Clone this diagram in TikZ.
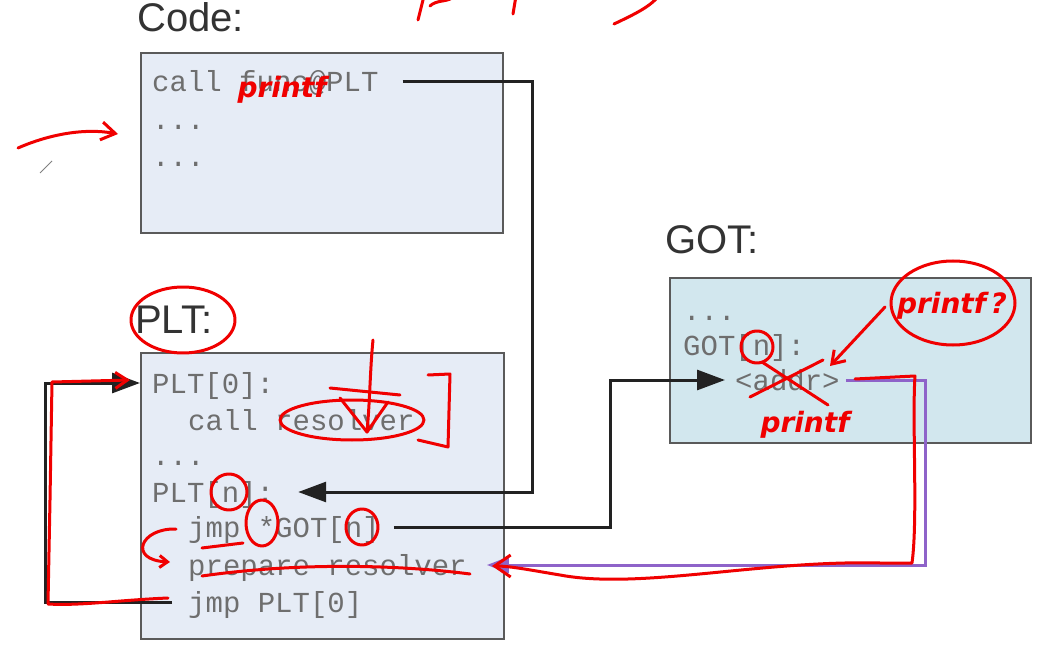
\documentclass[tikz,border=0pt]{standalone}
\usepackage{fontspec}
\setmainfont{Liberation Sans}
\newfontfamily\monofont{Liberation Mono}
\newfontfamily\handfont{DejaVu Sans}
\usetikzlibrary{arrows.meta}
\usetikzlibrary{positioning}
\usetikzlibrary{calc}
\definecolor{codefill}{HTML}{E6ECF6}
\definecolor{gotfill}{HTML}{D2E7EE}
\definecolor{boxline}{HTML}{5A5A5A}
\definecolor{asmtext}{HTML}{6E6E6E}
\definecolor{ptrline}{HTML}{222222}
\definecolor{lazyline}{HTML}{8E63C9}
\definecolor{inkred}{HTML}{F00000}

\begin{document}
\begin{tikzpicture}[x=1pt,y=-1pt]
	\tikzset{membox/.style = {shape=rectangle, draw=boxline, line width=2.2pt, anchor=north west, inner sep=0pt},
		asm/.style = {anchor=west, inner sep=0pt, text height=20pt, text depth=0pt, text=asmtext, font=\monofont\fontsize{29}{30}\selectfont},
		memlabel/.style = {anchor=west, inner sep=0pt, text=black!80, font=\fontsize{40}{44}\selectfont},
		ptr/.style = {draw=ptrline, line width=3pt, -{Triangle[length=28pt,width=20pt]}},
		lazy/.style = {draw=lazyline, line width=3pt, -{Triangle[length=22pt,width=16pt]}},
		ink/.style = {draw=inkred, line width=3pt, line cap=round, line join=round},
		scrawl/.style = {text=inkred, inner sep=0pt, font=\handfont\bfseries\itshape\fontsize{28}{28}\selectfont}}
	\useasboundingbox (0,0) rectangle (1044,652);
	\fill[white] (0,0) rectangle (1044,652);
	
	% code
	\node[memlabel] (CODELBL) at (137,17) {Code:};
	\node[membox, fill=codefill, minimum width=362pt, minimum height=180pt] (CODE) at (140,52) {};
	\node[asm] (CALL) at (152,82) {call func@PLT};
	\node[asm] (DOTSA) at (152,120) {...};
	\node[asm] (DOTSB) at (152,157) {...};
	
	% plt
	\node[memlabel] (PLTLBL) at (135,320) {PLT:};
	\node[membox, fill=codefill, minimum width=363pt, minimum height=286pt] (PLT) at (140,352) {};
	\node[asm] (PLT0) at (152,383) {PLT[0]:};
	\node[asm] (CALLRES) at (188,420) {call resolver};
	\node[asm] (DOTSC) at (152,455) {...};
	\node[asm] (PLTN) at (152,492) {PLT[n]:};
	\node[asm] (JMPGOT) at (188,527) {jmp *GOT[n]};
	\node[asm] (PREP) at (188,565) {prepare resolver};
	\node[asm] (JMPPLT) at (188,602) {jmp PLT[0]};
	
	% got
	\node[memlabel] (GOTLBL) at (665,240) {GOT:};
	\node[membox, fill=gotfill, minimum width=361pt, minimum height=165pt] (GOT) at (669,277) {};
	\node[asm] (GDOTS) at (683,310) {...};
	\node[asm] (GOTN) at (683,345) {GOT[n]:};
	\node[asm] (ADDR) at (735,380) {<addr>};
	
	% pointers
	\coordinate (RA) at (532,0);
	\coordinate (RB) at (610,0);
	\coordinate (LA) at (45,0);
	\coordinate (RC) at (925,0);
	\draw[ptr] ([xshift=24pt]CALL.east) -- (CALL.east -| RA) |- ([xshift=24pt]PLTN.east);
	\draw[ptr] ([xshift=14pt]JMPGOT.east) -- (JMPGOT.east -| RB) |- ([xshift=-10pt]ADDR.west);
	\draw[ptr] ([xshift=-16pt]JMPPLT.west) -- (JMPPLT.west -| LA) |- (PLT.west |- PLT0.west);
	\draw[lazy] ([xshift=6pt]ADDR.east) -- (ADDR.east -| RC) |- ([xshift=20pt]PREP.east);
	
	% handwritten notes
	\draw[ink] (418,20) -- (424,-4);
	\draw[ink] (430,6) .. controls (436,0) and (446,2) .. (452,-2);
	\draw[ink] (513,14) -- (516,-4);
	\draw[ink] (614,24) .. controls (635,14) and (652,6) .. (660,-6);
	\draw[ink, -{Straight Barb[length=14pt,width=18pt]}] (18,148) .. controls (50,134) and (85,128) .. (118,134);
	\draw[gray, line width=1pt] (40,173) -- (52,161);
	\node[scrawl] (INKCALL) at (282,90) {printf};
	\draw[ink] (183,320) ellipse [x radius=52pt, y radius=33pt];
	\draw[ink, -{Straight Barb[length=12pt,width=16pt]}] (168,598) .. controls (120,600) and (80,606) .. (48,604) -- (50,500) -- (52,382) -- (130,380);
	\draw[ink] (352,420) ellipse [x radius=72pt, y radius=20pt];
	\draw[ink] (373,340) .. controls (370,370) and (370,400) .. (367,432);
	\draw[ink] (340,398) -- (367,432) -- (388,402);
	\draw[ink] (330,388) -- (400,395);
	\draw[ink] (428,375) -- (450,374) -- (448,447) -- (418,440);
	\draw[ink] (229,492) circle [radius=18pt];
	\draw[ink] (262,523) ellipse [x radius=16pt, y radius=23pt];
	\draw[ink] (362,527) ellipse [x radius=16pt, y radius=18pt];
	\draw[ink] (202,548) -- (243,543);
	\draw[ink, -{Straight Barb[length=8pt,width=12pt]}] (176,529) .. controls (140,528) and (128,560) .. (170,562);
	\draw[ink] (202,576) .. controls (300,562) and (400,565) .. (470,574);
	\draw[ink] (953,303) ellipse [x radius=62pt, y radius=42pt];
	\node[scrawl] (INKQ) at (952,306) {printf\,?};
	\draw[ink, -{Straight Barb[length=12pt,width=16pt]}] (885,307) -- (830,366);
	\draw[ink] (757,347) circle [radius=16pt];
	\draw[ink] (750,397) -- (823,360);
	\draw[ink] (762,362) -- (828,405);
	\node[scrawl] (INKADDR) at (805,425) {printf};
	\draw[ink, -{Straight Barb[length=16pt,width=22pt]}] (855,379) -- (915,376) .. controls (912,420) and (918,520) .. (912,563) -- (880,563) .. controls (760,560) and (640,590) .. (560,575) .. controls (530,570) and (510,566) .. (492,566);
\end{tikzpicture}
\end{document}
